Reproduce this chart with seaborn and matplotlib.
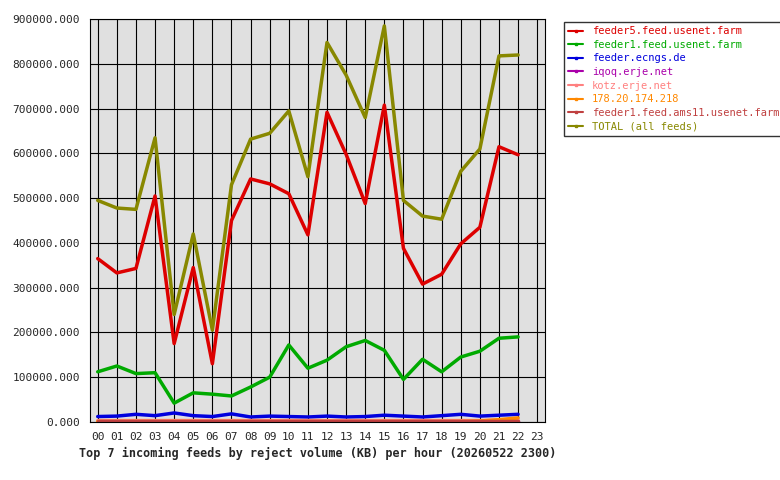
import matplotlib
matplotlib.use("Agg")
import matplotlib.pyplot as plt
import seaborn as sns
import pandas as pd
from matplotlib.ticker import FuncFormatter, MultipleLocator

hours = [f"{h:02d}" for h in range(23)]
feeder5 = [365,333,343,505,175,345,130,450,543,532,510,418,692,598,488,708,388,308,330,398,435,615,597]
feeder1 = [112,125,108,110,42,65,62,58,78,100,172,120,138,168,182,160,95,140,112,145,158,187,190]
ecngs = [12,13,17,14,20,14,12,18,11,13,12,11,13,11,12,15,13,11,14,17,13,15,17]
iqoq = [2,2,2,2,2,2,2,2,2,2,2,2,2,2,2,2,2,2,2,2,2,2,2]
kotz = [3,3,3,3,3,3,3,3,3,3,3,3,3,3,3,3,3,3,3,3,3,4,4]
ip178 = [1,1,1,1,1,1,1,1,1,1,1,1,1,1,1,1,1,1,1,1,2,5,9]
ams11 = [1,1,1,1,1,1,1,1,1,1,1,1,1,1,1,1,1,1,1,1,1,1,1]
total = [495,478,475,635,240,420,205,530,632,645,695,548,848,775,680,885,495,460,453,560,610,818,820]

series = [
    ("feeder5.feed.usenet.farm", feeder5, "#dd0000"),
    ("feeder1.feed.usenet.farm", feeder1, "#00aa00"),
    ("feeder.ecngs.de", ecngs, "#0000dd"),
    ("iqoq.erje.net", iqoq, "#aa00aa"),
    ("kotz.erje.net", kotz, "#ff8080"),
    ("178.20.174.218", ip178, "#ff8800"),
    ("feeder1.feed.ams11.usenet.farm", ams11, "#c04040"),
    ("TOTAL (all feeds)", total, "#888800"),
]
rows = []
for name, vals, _ in series:
    for i, v in enumerate(vals):
        rows.append({"hour": i, "value": v * 1000, "feed": name})
df = pd.DataFrame(rows)
palette = {n: c for n, _, c in series}

sns.set_style("white")
plt.rcParams["font.family"] = ["DejaVu Sans Mono"]
fig = plt.figure(figsize=(7.8, 4.8), dpi=100)
ax = fig.add_axes([0.115, 0.121, 0.584, 0.839])
ax.set_facecolor("#e0e0e0")
sns.lineplot(data=df, x="hour", y="value", hue="feed", palette=palette,
             hue_order=[n for n, _, _ in series], linewidth=2.5, ax=ax, legend=False)
ax.set_xlim(-0.42, 23.42)
ax.set_ylim(0, 900000)
ax.set_xticks(range(24))
ax.set_xticklabels([f"{h:02d}" for h in range(24)], fontsize=8)
ax.yaxis.set_major_locator(MultipleLocator(100000))
ax.yaxis.set_major_formatter(FuncFormatter(lambda v, p: f"{int(v)}.000"))
ax.tick_params(axis="y", labelsize=8)
ax.grid(True, color="black", linewidth=0.8)
ax.set_axisbelow(True)
for s in ax.spines.values():
    s.set_color("black")
ax.set_ylabel("")
ax.set_xlabel("Top 7 incoming feeds by reject volume (KB) per hour (20260522 2300)",
              fontsize=8.5, fontweight="bold")
handles = [plt.Line2D([], [], color=c, lw=1.5, marker="s", markersize=2) for _, _, c in series]
leg = fig.legend(handles, [n for n, _, _ in series], loc="upper left",
                 bbox_to_anchor=(0.716, 0.965), fontsize=7.5, frameon=True,
                 fancybox=False, edgecolor="black", handlelength=1.5, labelspacing=0.35)
for t, (_, _, c) in zip(leg.get_texts(), series):
    t.set_color(c)
fig.savefig("out.png", dpi=100)
